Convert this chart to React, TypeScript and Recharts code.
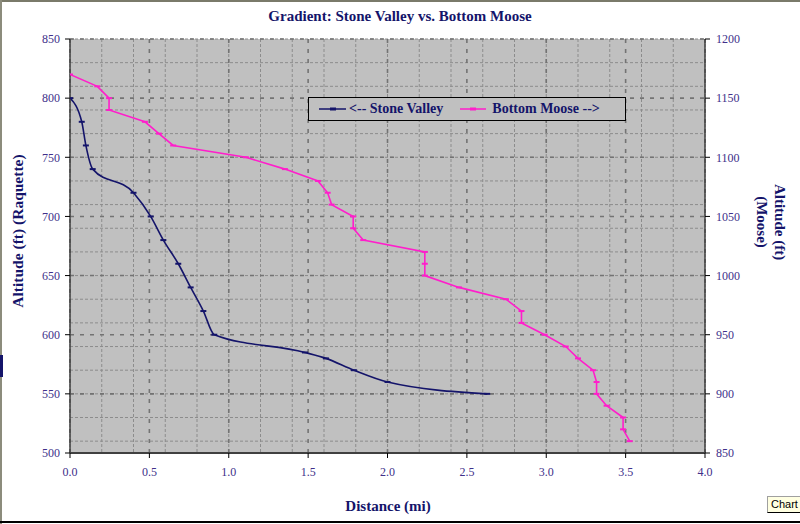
import React from "react";
import { CartesianGrid, Line, LineChart, XAxis, YAxis } from "recharts";

const FONT = '"Liberation Serif", "Times New Roman", serif';
const NAVY = "#14146a";
const PINK = "#ff1ecb";
const TICK_COLOR = "#40308a";

// distance (mi) vs altitude (ft)
const stoneValley = [
  { dist: 0, alt: 800 },
  { dist: 0.074, alt: 780 },
  { dist: 0.1, alt: 760 },
  { dist: 0.143, alt: 740 },
  { dist: 0.4, alt: 720 },
  { dist: 0.508, alt: 700 },
  { dist: 0.588, alt: 680 },
  { dist: 0.682, alt: 660 },
  { dist: 0.76, alt: 640 },
  { dist: 0.84, alt: 620 },
  { dist: 0.909, alt: 600 },
  { dist: 1.48, alt: 585 },
  { dist: 1.612, alt: 580 },
  { dist: 1.788, alt: 570 },
  { dist: 2.0, alt: 560 },
  { dist: 2.628, alt: 550 },
];

const bottomMoose = [
  { dist: 0, alt: 1170 },
  { dist: 0.172, alt: 1160 },
  { dist: 0.246, alt: 1150 },
  { dist: 0.246, alt: 1140 },
  { dist: 0.472, alt: 1130 },
  { dist: 0.56, alt: 1120 },
  { dist: 0.65, alt: 1110 },
  { dist: 1.108, alt: 1100 },
  { dist: 1.354, alt: 1090 },
  { dist: 1.562, alt: 1080 },
  { dist: 1.623, alt: 1070 },
  { dist: 1.648, alt: 1060 },
  { dist: 1.784, alt: 1050 },
  { dist: 1.784, alt: 1040 },
  { dist: 1.847, alt: 1030 },
  { dist: 2.235, alt: 1020 },
  { dist: 2.235, alt: 1010 },
  { dist: 2.235, alt: 1000 },
  { dist: 2.45, alt: 990 },
  { dist: 2.746, alt: 980 },
  { dist: 2.844, alt: 970 },
  { dist: 2.844, alt: 960 },
  { dist: 2.99, alt: 950 },
  { dist: 3.123, alt: 940 },
  { dist: 3.2, alt: 930 },
  { dist: 3.295, alt: 920 },
  { dist: 3.317, alt: 910 },
  { dist: 3.317, alt: 900 },
  { dist: 3.38, alt: 890 },
  { dist: 3.484, alt: 880 },
  { dist: 3.484, alt: 870 },
  { dist: 3.526, alt: 860 },
];

const xTicks = [0, 0.5, 1, 1.5, 2, 2.5, 3, 3.5, 4];
const leftTicks = [500, 550, 600, 650, 700, 750, 800, 850];
const rightTicks = [850, 900, 950, 1000, 1050, 1100, 1150, 1200];

// minor gridlines every 0.1 mi and 10 ft
const minorX = Array.from({ length: 41 }, (_, i) => i / 10);
const minorY = Array.from({ length: 36 }, (_, i) => 500 + i * 10);

const dashDot = (color: string) => (props: any) => {
  const { cx, cy, index } = props;
  if (cx == null || cy == null) return null;
  return (
    <line
      key={`d-${index}`}
      x1={cx - 3}
      x2={cx + 3}
      y1={cy}
      y2={cy}
      stroke={color}
      strokeWidth={2}
    />
  );
};

const LegendBox = () => (
  <div
    style={{
      position: "absolute",
      left: 308,
      top: 97,
      width: 316,
      height: 22,
      background: "#c0c0c0",
      border: "1px solid #000",
      display: "flex",
      alignItems: "center",
      fontFamily: FONT,
      fontWeight: "bold",
      fontSize: 14,
      color: NAVY,
      whiteSpace: "nowrap",
    }}
  >
    <svg width={40} height={10} style={{ marginLeft: 8 }}>
      <line x1={2} x2={29} y1={5} y2={5} stroke={NAVY} strokeWidth={1.5} />
      <line x1={13} x2={19} y1={5} y2={5} stroke={NAVY} strokeWidth={3} />
    </svg>
    <span style={{ marginLeft: -8 }}>{"<-- Stone Valley"}</span>
    <svg width={32} height={10} style={{ marginLeft: 15 }}>
      <line x1={2} x2={28} y1={5} y2={5} stroke={PINK} strokeWidth={1.5} />
      <line x1={12} x2={18} y1={5} y2={5} stroke={PINK} strokeWidth={3} />
    </svg>
    <span style={{ marginLeft: 2 }}>{"Bottom Moose -->"}</span>
  </div>
);

export default function App() {
  return (
    <div
      style={{
        position: "absolute",
        left: 0,
        top: 0,
        width: 800,
        height: 524,
        background: "#fff",
        overflow: "hidden",
      }}
    >
      {/* window frame bits */}
      <div style={{ position: "absolute", left: 0, top: 0, width: 800, height: 2, background: "#7a7a6a" }} />
      <div style={{ position: "absolute", left: 0, top: 0, width: 2, height: 524, background: "#8c8c7c" }} />
      <div style={{ position: "absolute", left: 0, top: 521, width: 800, height: 2, background: "#000" }} />
      <div style={{ position: "absolute", left: 0, top: 355, width: 3, height: 22, background: NAVY }} />

      <div
        style={{
          position: "absolute",
          left: 0,
          top: 8,
          width: 800,
          textAlign: "center",
          fontFamily: FONT,
          fontWeight: "bold",
          fontSize: 15,
          color: NAVY,
        }}
      >
        Gradient: Stone Valley vs. Bottom Moose
      </div>

      <LineChart
        width={800}
        height={524}
        margin={{ top: 39, right: 0, bottom: 0, left: 0 }}
        style={{ position: "absolute", left: 0, top: 0 }}
      >
        <CartesianGrid
          yAxisId="left"
          fill="#c0c0c0"
          fillOpacity={1}
          stroke="#8c8c8c"
          strokeDasharray="3 2"
          horizontalValues={minorY}
          verticalValues={minorX}
        />
        <CartesianGrid
          yAxisId="left"
          stroke="#737373"
          strokeWidth={1.6}
          strokeDasharray="4 6"
          horizontalValues={leftTicks}
          verticalValues={xTicks}
        />
        <XAxis
          type="number"
          dataKey="dist"
          domain={[0, 4]}
          ticks={xTicks}
          allowDataOverflow
          height={71}
          tickSize={5}
          tickMargin={9}
          tickFormatter={(v: number) => v.toFixed(1)}
          tick={{ fill: TICK_COLOR, fontSize: 12, fontFamily: FONT }}
          axisLine={{ stroke: "#404040", strokeWidth: 2 }}
          tickLine={{ stroke: "#000" }}
          label={{
            content: () => (
              <text
                x={388}
                y={511}
                textAnchor="middle"
                fontFamily={FONT}
                fontWeight="bold"
                fontSize={15}
                fill={NAVY}
              >
                Distance (mi)
              </text>
            ),
          }}
        />
        <YAxis
          yAxisId="left"
          type="number"
          domain={[500, 850]}
          ticks={leftTicks}
          width={70}
          tickSize={5}
          tickMargin={5}
          tick={{ fill: TICK_COLOR, fontSize: 12, fontFamily: FONT }}
          axisLine={{ stroke: "#404040", strokeWidth: 1.5 }}
          tickLine={{ stroke: "#000" }}
          label={{
            content: () => (
              <text
                x={0}
                y={0}
                transform="translate(23 231) rotate(-90)"
                textAnchor="middle"
                fontFamily={FONT}
                fontWeight="bold"
                fontSize={15.5}
                fill={NAVY}
              >
                Altitude (ft) (Raquette)
              </text>
            ),
          }}
        />
        <YAxis
          yAxisId="right"
          orientation="right"
          type="number"
          domain={[850, 1200]}
          ticks={rightTicks}
          width={95}
          tickSize={5}
          tickMargin={6}
          tick={{ fill: TICK_COLOR, fontSize: 12, fontFamily: FONT }}
          axisLine={{ stroke: "#404040", strokeWidth: 1.5 }}
          tickLine={{ stroke: "#000" }}
          label={{
            content: () => (
              <g transform="translate(770 222) rotate(90)">
                <text
                  x={0}
                  y={-5}
                  textAnchor="middle"
                  fontFamily={FONT}
                  fontWeight="bold"
                  fontSize={15}
                  fill={NAVY}
                >
                  Altitude (ft)
                </text>
                <text
                  x={0}
                  y={13}
                  textAnchor="middle"
                  fontFamily={FONT}
                  fontWeight="bold"
                  fontSize={15}
                  fill={NAVY}
                >
                  (Moose)
                </text>
              </g>
            ),
          }}
        />
        <Line
          yAxisId="left"
          data={stoneValley}
          dataKey="alt"
          name="Stone Valley"
          type="monotone"
          stroke={NAVY}
          strokeWidth={1.6}
          dot={dashDot(NAVY)}
          activeDot={false}
          isAnimationActive={false}
        />
        <Line
          yAxisId="right"
          data={bottomMoose}
          dataKey="alt"
          name="Bottom Moose"
          type="linear"
          stroke={PINK}
          strokeWidth={1.6}
          dot={dashDot(PINK)}
          activeDot={false}
          isAnimationActive={false}
        />
      </LineChart>

      <LegendBox />

      <div
        style={{
          position: "absolute",
          left: 767,
          top: 496,
          width: 33,
          height: 15,
          background: "#ffffe1",
          borderLeft: "1px solid #a0a0a0",
          borderTop: "1px solid #a0a0a0",
          borderBottom: "1px solid #000",
          fontFamily: '"Liberation Sans", Arial, sans-serif',
          fontSize: 11,
          lineHeight: "15px",
          paddingLeft: 3,
          color: "#000",
        }}
      >
        Chart
      </div>
    </div>
  );
}
